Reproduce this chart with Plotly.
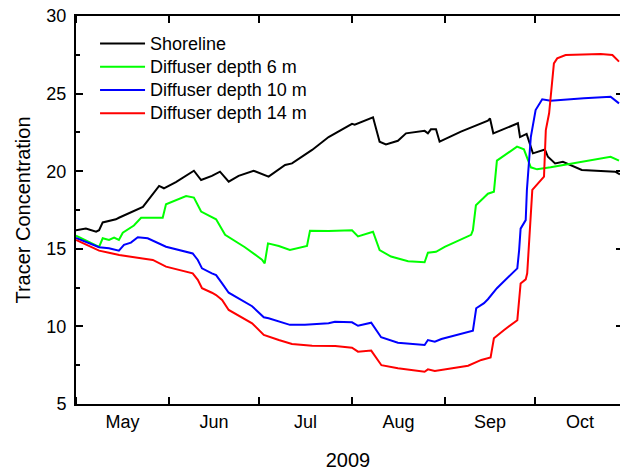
import pandas as pd
import plotly.graph_objects as go

# days since 2009-05-01 and tracer concentration values
shore_day = [0, 3.3, 6.7, 7.7, 8.9, 13.3, 14.3, 17.7, 22.3, 27.7, 29.3, 33.3, 39.3, 41.7, 45.3, 48, 50.9,
             54.2, 59.2, 64.2, 69.7, 72, 78.7, 84.2, 87.6, 92, 92.9, 99, 101.2, 103.3, 107.3, 110, 116.2,
             117.3, 118.3, 120, 121.2, 128.3, 137.3, 138, 139.1, 147.3, 148, 150.2, 152.3, 156.3, 157.3,
             159.7, 162.3, 168.6, 179.7, 181.3]
shore_val = [16.2, 16.3, 16.1, 16.2, 16.7, 16.9, 17.0, 17.3, 17.7, 19.05, 18.9, 19.3, 20.03, 19.43, 19.7,
             19.97, 19.33, 19.7, 20.03, 19.65, 20.4, 20.5, 21.37, 22.2, 22.55, 23.05, 23.0, 23.47, 21.9,
             21.73, 21.96, 22.44, 22.6, 22.44, 22.7, 22.7, 21.9, 22.55, 23.25, 23.4, 22.44, 23.09, 22.2,
             22.4, 21.15, 21.4, 20.93, 20.5, 20.6, 20.08, 19.97, 19.8]

d6_day = [0, 7.7, 8.9, 11, 12.7, 14.3, 15.6, 19.3, 21.7, 28.9, 30, 36.7, 39.3, 41.7, 46.7, 49.7, 56.3, 62,
          62.9, 64, 67.6, 71.3, 77, 78, 84.2, 92, 94, 99, 101.2, 105, 110.7, 116.2, 117.3, 120, 122.9,
          131.7, 132.3, 133.3, 136, 137.3, 139.3, 140.3, 147, 149.3, 151.6, 153.7, 158.2, 178.2, 181]
d6_val = [15.85, 15.13, 15.68, 15.57, 15.72, 15.57, 16.04, 16.5, 17.0, 17.0, 17.87, 18.4, 18.3, 17.4, 16.9,
          15.9, 15.1, 14.3, 14.06, 15.35, 15.18, 14.92, 15.18, 16.17, 16.15, 16.2, 15.8, 16.1, 14.92, 14.5,
          14.2, 14.13, 14.75, 14.81, 15.13, 15.9, 16.2, 17.8, 18.3, 18.55, 18.68, 20.68, 21.58, 21.41,
          20.25, 20.12, 20.25, 20.93, 20.68]

d10_day = [0, 7.7, 11, 14.3, 16, 18.3, 20.6, 23.9, 30, 38.9, 40.6, 42, 45.3, 46.7, 48.7, 50.9, 58.7, 62.6,
           64.2, 71.3, 76.3, 84.2, 86.3, 92, 94, 98.4, 101.7, 107.3, 116.2, 117.3, 119.6, 121.8, 132.3,
           133.4, 136, 137.3, 140.3, 143.7, 147.1, 147.7, 148.2, 149.9, 150.3, 151.6, 153.2, 155.4, 158.2,
           169.3, 178.2, 181]
d10_val = [15.7, 15.1, 15.03, 14.88, 15.25, 15.4, 15.74, 15.68, 15.13, 14.7, 14.28, 13.74, 13.42, 13.3,
           12.77, 12.17, 11.3, 10.59, 10.52, 10.1, 10.1, 10.2, 10.3, 10.26, 10.04, 10.24, 9.3, 8.95, 8.8,
           9.12, 9.01, 9.19, 9.72, 11.17, 11.5, 11.75, 12.46, 13.1, 13.74, 14.9, 16.3, 16.85, 18.8, 22.2,
           23.94, 24.63, 24.54, 24.7, 24.8, 24.37]

d14_day = [0, 7.7, 11, 14.4, 22.2, 25.6, 30, 38.9, 40.6, 42, 45.3, 46.7, 48.7, 50.9, 58.7, 62.6, 67.6, 72,
           78.7, 86.4, 92, 94, 98.4, 101.8, 107.3, 116.2, 117.3, 119.6, 130.7, 135.1, 138.2, 139.3, 142.7,
           147.1, 148.2, 149.9, 150.4, 152.1, 156, 156.6, 157.7, 159.3, 160.4, 163.2, 174.9, 178.8, 181]
d14_val = [15.57, 14.88, 14.75, 14.6, 14.38, 14.28, 13.85, 13.42, 13.0, 12.46, 12.17, 12.02, 11.7, 11.06,
           10.2, 9.45, 9.12, 8.87, 8.76, 8.74, 8.63, 8.37, 8.44, 7.5, 7.3, 7.08, 7.23, 7.13, 7.47, 7.84, 8.0,
           9.23, 9.77, 10.4, 12.77, 13.03, 13.42, 18.8, 19.65, 22.65, 23.73, 26.95, 27.27, 27.49, 27.55,
           27.49, 27.06]

series = [
    ("Shoreline", shore_day, shore_val, "#000000"),
    ("Diffuser depth 6 m", d6_day, d6_val, "#00ff00"),
    ("Diffuser depth 10 m", d10_day, d10_val, "#0000ff"),
    ("Diffuser depth 14 m", d14_day, d14_val, "#ff0000"),
]

start = pd.Timestamp("2009-05-01")
font = "Liberation Sans, Arial, sans-serif"

fig = go.Figure()
for name, days, vals, col in series:
    x = start + pd.to_timedelta(days, unit="D")
    fig.add_trace(go.Scatter(x=x, y=vals, mode="lines",
                             name='<span style="font-size:18px">' + name + '</span>',
                             line=dict(color=col, width=2)))

# invisible trace for right-side ticks without axis line
fig.add_trace(go.Scatter(x=[start], y=[None], yaxis="y2", showlegend=False, hoverinfo="skip"))

fig.update_layout(
    width=620, height=471,
    margin=dict(l=76, r=0, t=16, b=67),
    paper_bgcolor="white", plot_bgcolor="white",
    font=dict(family=font, size=18, color="black"),
    showlegend=True,
    legend=dict(x=0.035, y=0.972, xanchor="left", yanchor="top", bgcolor="rgba(0,0,0,0)",
                font=dict(size=15.6), itemwidth=45, tracegroupgap=0),
    xaxis=dict(
        type="date",
        range=[start, start + pd.Timedelta(days=181.33)],
        tick0="2009-05-01", dtick="M1", tickformat="%b", ticklabelmode="period",
        ticks="inside", ticklen=7, tickwidth=1.5, tickcolor="black",
        showline=True, linecolor="black", linewidth=2, mirror="ticks",
        showgrid=False, zeroline=False,
        title=dict(text="2009", font=dict(size=20), standoff=22),
        tickfont=dict(size=18),
    ),
    yaxis=dict(
        range=[5, 30], tickvals=[5, 10, 15, 20, 25, 30],
        ticks="inside", ticklen=7, tickwidth=1.5, tickcolor="black",
        minor=dict(tickvals=[7.5, 12.5, 17.5, 22.5, 27.5], ticks="inside", ticklen=4,
                   tickcolor="black", tickwidth=1.5),
        showline=True, linecolor="black", linewidth=2, mirror=False,
        showgrid=False, zeroline=False,
        title=dict(text="Tracer Concentration", font=dict(size=20), standoff=10),
        tickfont=dict(size=18), ticklabelstandoff=4,
    ),
    yaxis2=dict(
        overlaying="y", side="right", range=[5, 30], tickvals=[5, 10, 15, 20, 25, 30],
        ticks="inside", ticklen=4, tickwidth=1.5, tickcolor="black",
        showticklabels=False, showline=False, showgrid=False, zeroline=False,
    ),
)

fig.write_html("out.html")
